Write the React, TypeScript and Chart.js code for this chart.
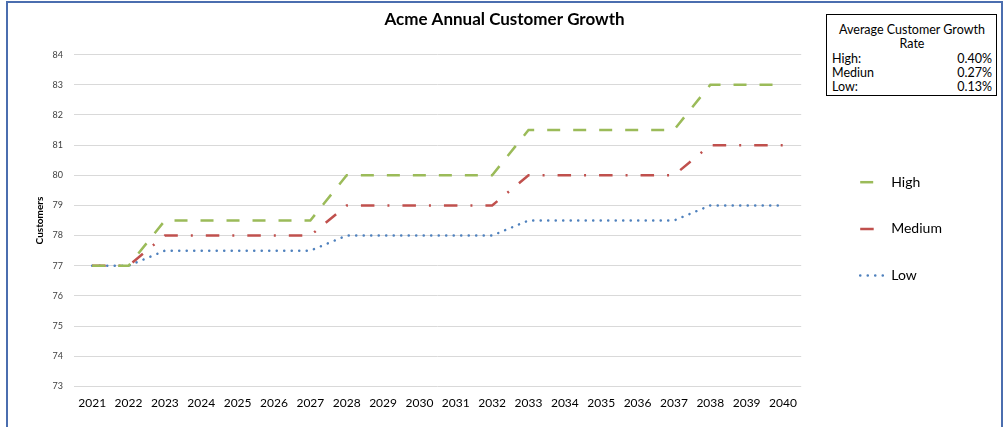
import React, { useEffect, useRef } from 'react';
import { Chart, registerables } from 'chart.js';

Chart.register(...registerables);

const years = ['2021', '2022', '2023', '2024', '2025', '2026', '2027', '2028', '2029', '2030', '2031', '2032', '2033', '2034', '2035', '2036', '2037', '2038', '2039', '2040'];
const highValues = [77, 77, 78.5, 78.5, 78.5, 78.5, 78.5, 80, 80, 80, 80, 80, 81.5, 81.5, 81.5, 81.5, 81.5, 83, 83, 83];
const mediumValues = [77, 77, 78, 78, 78, 78, 78, 79, 79, 79, 79, 79, 80, 80, 80, 80, 80, 81, 81, 81];
const lowValues = [77, 77, 77.5, 77.5, 77.5, 77.5, 77.5, 78, 78, 78, 78, 78, 78.5, 78.5, 78.5, 78.5, 78.5, 79, 79, 79];
const seriesNames = ['High', 'Medium', 'Low'];
const rateBoxTitle = 'Average Customer Growth Rate';
const rateLabels = ['High:', 'Mediun', 'Low:'];
const rateValues = ['0.40%', '0.27%', '0.13%'];

const FONT = 'Lato, "Open Sans", "DejaVu Sans", sans-serif';
const CANVAS_W = 993;
const CANVAS_H = 424;
const LEGEND_BOX_W = 173.5;

const legendWidthPlugin = {
  id: 'legendWidthFix',
  beforeLayout(chart: any) {
    const lg = chart.legend;
    if (lg && !lg.__fixed) {
      const orig = lg.fit;
      lg.fit = function () {
        orig.call(this);
        if (this.options.display) this.width = LEGEND_BOX_W;
      };
      lg.__fixed = true;
    }
  },
};

export default function App() {
  const ref = useRef<HTMLCanvasElement | null>(null);

  useEffect(() => {
    if (!ref.current) return;
    const chart = new Chart(ref.current, {
      type: 'line',
      data: {
        labels: years,
        datasets: [
          {
            label: seriesNames[0],
            data: highValues,
            borderColor: '#9BBB59',
            backgroundColor: '#9BBB59',
            borderWidth: 2.5,
            borderDash: [13, 13],
            pointRadius: 0,
            tension: 0,
            fill: false,
          },
          {
            label: seriesNames[1],
            data: mediumValues,
            borderColor: '#C0504D',
            backgroundColor: '#C0504D',
            borderWidth: 2.5,
            borderDash: [13.5, 13, 2, 13],
            pointRadius: 0,
            tension: 0,
            fill: false,
          },
          {
            label: seriesNames[2],
            data: lowValues,
            borderColor: '#4F81BD',
            backgroundColor: '#4F81BD',
            borderWidth: 2.5,
            borderDash: [0.1, 7.4],
            borderCapStyle: 'round',
            pointRadius: 0,
            tension: 0,
            fill: false,
          },
        ],
      },
      options: {
        animation: false,
        responsive: false,
        maintainAspectRatio: false,
        layout: { padding: { left: 0, right: 0, top: 0, bottom: 6.3 } },
        plugins: {
          title: {
            display: true,
            text: 'Acme Annual Customer Growth',
            color: '#000',
            font: { family: FONT, size: 17, weight: 'bold' },
            padding: { top: 6.8, bottom: 24.5 },
          },
          legend: {
            display: true,
            position: 'right',
            align: 'center',
            fullSize: false,
            title: { display: true, text: '', padding: 0, font: { size: 14 } },
            labels: {
              usePointStyle: true,
              pointStyle: 'line',
              pointStyleWidth: 24,
              padding: 32.7,
              color: '#000',
              font: { family: FONT, size: 14 },
              generateLabels: (c: any) => {
                const items = (Chart.defaults as any).plugins.legend.labels.generateLabels(c);
                return items.map((it: any) => {
                  const ds: any = c.data.datasets[it.datasetIndex];
                  return {
                    ...it,
                    lineDash: ds.borderDash || [],
                    lineDashOffset: 0,
                    lineCap: ds.borderCapStyle || 'butt',
                    lineWidth: ds.borderWidth,
                    strokeStyle: ds.borderColor,
                    fillStyle: ds.borderColor,
                    pointStyle: 'line',
                  };
                });
              },
            },
          },
          tooltip: { enabled: false },
        },
        scales: {
          x: {
            type: 'category',
            offset: true,
            grid: { display: false, drawTicks: false },
            border: { display: false },
            ticks: {
              color: '#000',
              padding: 10,
              font: { family: FONT, size: 12 },
              autoSkip: false,
              maxRotation: 0,
            },
          },
          y: {
            type: 'linear',
            position: 'left',
            min: 73,
            max: 84,
            afterFit: (s: any) => {
              s.width = 66;
            },
            grid: { color: '#d9d9d9', lineWidth: 1, drawTicks: false },
            border: { display: false },
            ticks: {
              stepSize: 1,
              color: '#404040',
              padding: 11,
              font: { family: FONT, size: 9 },
            },
            title: {
              display: true,
              text: 'Customers',
              color: '#000',
              font: { family: FONT, size: 10, weight: 'bold' },
              padding: { top: 26, bottom: 0 },
            },
          },
          yR: {
            type: 'linear',
            position: 'right',
            display: true,
            afterFit: (s: any) => {
              s.width = 26.3;
            },
            grid: { display: false, drawTicks: false },
            border: { display: false },
            ticks: { display: false },
          },
        },
      },
      plugins: [legendWidthPlugin],
    } as any);
    return () => chart.destroy();
  }, []);

  return (
    <div
      style={{
        position: 'absolute',
        left: 6,
        top: 1,
        width: 997,
        height: 440,
        boxSizing: 'border-box',
        borderLeft: '2px solid #4B6EAF',
        borderRight: '2px solid #4B6EAF',
        borderTop: '2px solid #4B6EAF',
        background: '#fff',
      }}
    >
      <canvas
        ref={ref}
        width={CANVAS_W}
        height={CANVAS_H}
        style={{ position: 'absolute', left: 0, top: 0, width: CANVAS_W, height: CANVAS_H }}
      />
      <div
        style={{
          position: 'absolute',
          left: 826 - 8,
          top: 14 - 3,
          width: 171,
          height: 82,
          boxSizing: 'border-box',
          border: '1px solid #000',
          background: '#fff',
          fontFamily: FONT,
          fontSize: 12.5,
          lineHeight: '14px',
          color: '#000',
          padding: '8px 4px 0 5px',
        }}
      >
        <div style={{ textAlign: 'center', padding: '0 6px', whiteSpace: 'nowrap' }}>
          {rateBoxTitle.split(' ').slice(0, 3).join(' ')}
          <br />
          {rateBoxTitle.split(' ').slice(3).join(' ')}
        </div>
        {rateLabels.map((lab, i) => (
          <div key={lab} style={{ display: 'flex', justifyContent: 'space-between', marginTop: i === 0 ? 1 : 0 }}>
            <span>{lab}</span>
            <span>{rateValues[i]}</span>
          </div>
        ))}
      </div>
    </div>
  );
}
